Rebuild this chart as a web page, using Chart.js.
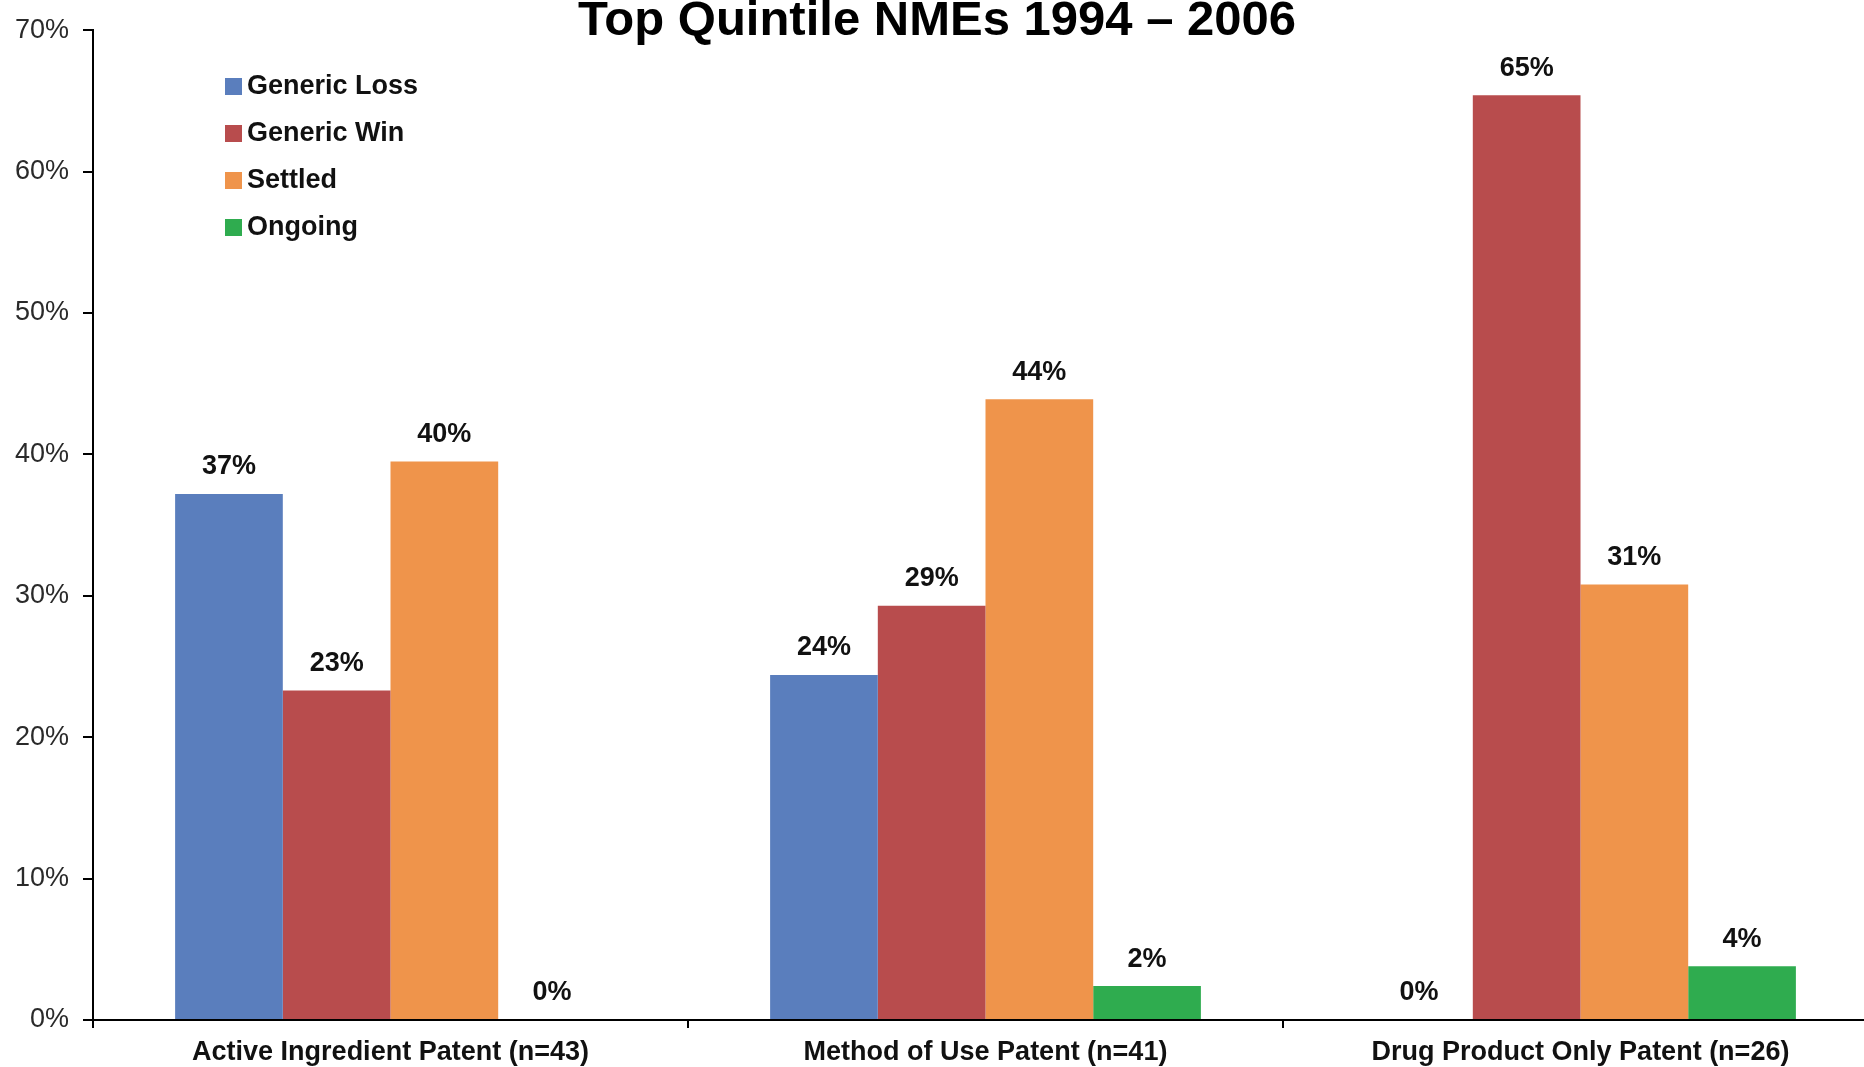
<!DOCTYPE html>
<html>
<head>
<meta charset="utf-8">
<title>Top Quintile NMEs 1994 – 2006</title>
<script src="https://cdn.jsdelivr.net/npm/chart.js@4.4.1/dist/chart.umd.min.js"></script>
<style>
    html, body { margin: 0; padding: 0; background: #fff; overflow: hidden; }
    #wrap { position: relative; width: 1878px; height: 1067px; }
</style>
</head>
<body>
<div id="wrap"><canvas id="patentChart" width="1878" height="1067"></canvas></div>
<script>
// Chart data
const categories = ['Active Ingredient Patent (n=43)', 'Method of Use Patent (n=41)', 'Drug Product Only Patent (n=26)'];
const seriesNames = ['Generic Loss', 'Generic Win', 'Settled', 'Ongoing'];
const genericLoss = [37.2, 24.4, 0];
const genericWin = [23.3, 29.3, 65.4];
const settled = [39.5, 43.9, 30.8];
const ongoing = [0, 2.4, 3.8];
const yTicks = [0, 10, 20, 30, 40, 50, 60, 70];
const chartTitle = 'Top Quintile NMEs 1994 \u2013 2006';

const seriesColors = ['#5a7ebd', '#b84c4d', '#ef944b', '#2fac4f'];
const FONT = '"Liberation Sans", Arial, sans-serif';

/**
 * Draws the percentage above every bar
 */
const valueLabels = {
    id: 'valueLabels',
    afterDatasetsDraw(chart) {
        const ctx = chart.ctx;
        ctx.save();
        ctx.font = 'bold 27px ' + FONT;
        ctx.fillStyle = '#111';
        ctx.textAlign = 'center';
        ctx.textBaseline = 'middle';
        chart.data.datasets.forEach((ds, i) => {
            const meta = chart.getDatasetMeta(i);
            meta.data.forEach((bar, j) => {
                ctx.fillText(Math.round(ds.data[j]) + '%', bar.x, bar.y - 27);
            });
        });
        ctx.restore();
    }
};

/**
 * Title and the legend in the upper left
 */
const titleAndLegend = {
    id: 'titleAndLegend',
    afterDraw(chart) {
        const ctx = chart.ctx;
        ctx.save();
        ctx.fillStyle = '#000';
        ctx.font = 'bold 49px ' + FONT;
        ctx.textAlign = 'center';
        ctx.textBaseline = 'alphabetic';
        ctx.fillText(chartTitle, 937, 35);

        ctx.font = 'bold 27px ' + FONT;
        ctx.textAlign = 'left';
        ctx.textBaseline = 'middle';
        chart.data.datasets.forEach((ds, i) => {
            const y = 86 + i * 47;
            ctx.fillStyle = ds.backgroundColor;
            ctx.fillRect(225, y - 8, 17, 17);
            ctx.fillStyle = '#111';
            ctx.fillText(ds.label, 247, y + 1);
        });
        ctx.restore();
    }
};

const seriesData = [genericLoss, genericWin, settled, ongoing];

new Chart(document.getElementById('patentChart').getContext('2d'), {
    type: 'bar',
    data: {
        labels: categories,
        datasets: seriesNames.map((name, i) => ({
            label: name,
            data: seriesData[i],
            backgroundColor: seriesColors[i],
            borderWidth: 0,
            barPercentage: 1.0,
            categoryPercentage: 0.724
        }))
    },
    options: {
        responsive: false,
        animation: false,
        layout: { padding: { top: 24, right: 0, bottom: 0, left: 0 } },
        plugins: {
            legend: { display: false },
            title: { display: false },
            tooltip: { enabled: false }
        },
        scales: {
            x: {
                border: { color: '#000', width: 2 },
                grid: { drawOnChartArea: false, color: '#000', lineWidth: 2, tickLength: 8 },
                ticks: {
                    color: '#111',
                    padding: 8,
                    font: { family: FONT, size: 27, weight: 'bold' }
                },
                afterFit(scale) { scale.height = 47; }
            },
            y: {
                min: 0,
                max: 70,
                border: { color: '#000', width: 2 },
                grid: { drawOnChartArea: false, color: '#000', lineWidth: 2, tickLength: 10 },
                afterBuildTicks(scale) {
                    scale.ticks = yTicks.map(v => ({ value: v }));
                },
                ticks: {
                    color: '#2a2a2a',
                    padding: 14,
                    font: { family: FONT, size: 27 },
                    callback: v => v + '%'
                },
                afterFit(scale) { scale.width = 93; }
            }
        }
    },
    plugins: [valueLabels, titleAndLegend]
});
</script>
</body>
</html>
